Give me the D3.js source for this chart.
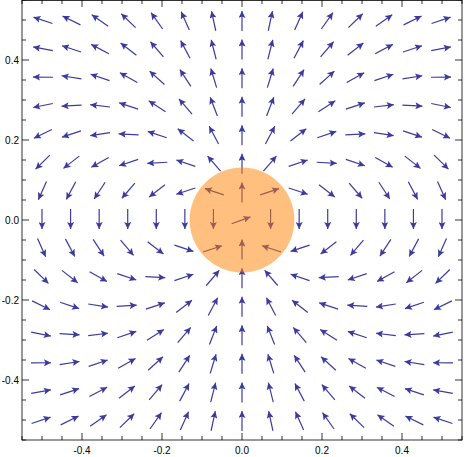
<!DOCTYPE html><html><head><meta charset="utf-8"><script src="https://d3js.org/d3.v7.min.js"></script>
<style>body{margin:0;background:#fff}</style></head><body><svg id="c" width="465" height="457"></svg>
<script>
const gridX=d3.range(15).map(i=>-0.5+i/14);
const gridY=d3.range(15).map(i=>-0.5+i/14);
const majorTicks=[-0.4,-0.2,0,0.2,0.4];
const minorTicks=d3.range(-11,12).map(i=>i*0.05);
const diskCenter=[0,0], diskRadius=0.131;
const centerAngleDeg=20; // arrow at origin (singular point)
const svg=d3.select("#c");
const x=d3.scaleLinear().domain([-0.55,0.55]).range([22,462]);
const y=d3.scaleLinear().domain([-0.55,0.55]).range([440,0]);
const col="#3b3b9e";
svg.append("defs").append("marker").attr("id","ah").attr("viewBox","0 0 10 10").attr("refX",10).attr("refY",5)
 .attr("markerWidth",9).attr("markerHeight",7).attr("markerUnits","userSpaceOnUse").attr("orient","auto")
 .append("path").attr("d","M0,0L10,5L0,10L2,5Z").attr("fill",col);
function dir(px,py){const r=Math.hypot(px,py);if(r<1e-9){const a=centerAngleDeg*Math.PI/180;return [Math.cos(a),Math.sin(a)];}
 const ux=px/r,uy=py/r;const vx=3*uy*ux,vy=3*uy*uy-1;const n=Math.hypot(vx,vy);return [vx/n,vy/n];}
const L=22;
const pts=[];gridX.forEach(a=>gridY.forEach(b=>pts.push([a,b])));
svg.append("g").selectAll("line").data(pts).join("line").each(function(p){
 const [dx,dy]=dir(p[0],p[1]);const cx=x(p[0]),cy=y(p[1]);
 d3.select(this).attr("x1",cx-dx*L/2).attr("y1",cy+dy*L/2).attr("x2",cx+dx*(L/2-2)).attr("y2",cy-dy*(L/2-2));
}).attr("stroke",col).attr("stroke-width",1.2).attr("marker-end","url(#ah)");
svg.append("ellipse").attr("cx",x(diskCenter[0])).attr("cy",y(diskCenter[1]))
 .attr("rx",x(diskRadius)-x(0)).attr("ry",y(0)-y(diskRadius)).attr("fill","#ff8000").attr("opacity",0.5);
const g=svg.append("g").attr("stroke","#000").attr("stroke-width",0.8);
g.append("rect").attr("x",22).attr("y",0.5).attr("width",440).attr("height",439.5).attr("fill","none");
minorTicks.forEach(t=>{const big=majorTicks.some(m=>Math.abs(m-t)<1e-9);const len=big?7:4;
 g.append("line").attr("x1",x(t)).attr("x2",x(t)).attr("y1",440).attr("y2",440-len);
 g.append("line").attr("x1",x(t)).attr("x2",x(t)).attr("y1",0).attr("y2",len);
 g.append("line").attr("y1",y(t)).attr("y2",y(t)).attr("x1",22).attr("x2",22+len);
 g.append("line").attr("y1",y(t)).attr("y2",y(t)).attr("x1",462).attr("x2",462-len);});
const fmt=v=>v===0?"0.0":d3.format(".1f")(v).replace("\u2212","-");
svg.append("g").selectAll("text").data(majorTicks).join("text").attr("x",d=>x(d)).attr("y",454)
 .attr("text-anchor","middle").attr("font-family","Liberation Sans").attr("font-size",10).text(fmt);
svg.append("g").selectAll("text").data(majorTicks).join("text").attr("x",19).attr("y",d=>y(d)+3.5)
 .attr("text-anchor","end").attr("font-family","Liberation Sans").attr("font-size",10).text(fmt);
</script></body></html>
